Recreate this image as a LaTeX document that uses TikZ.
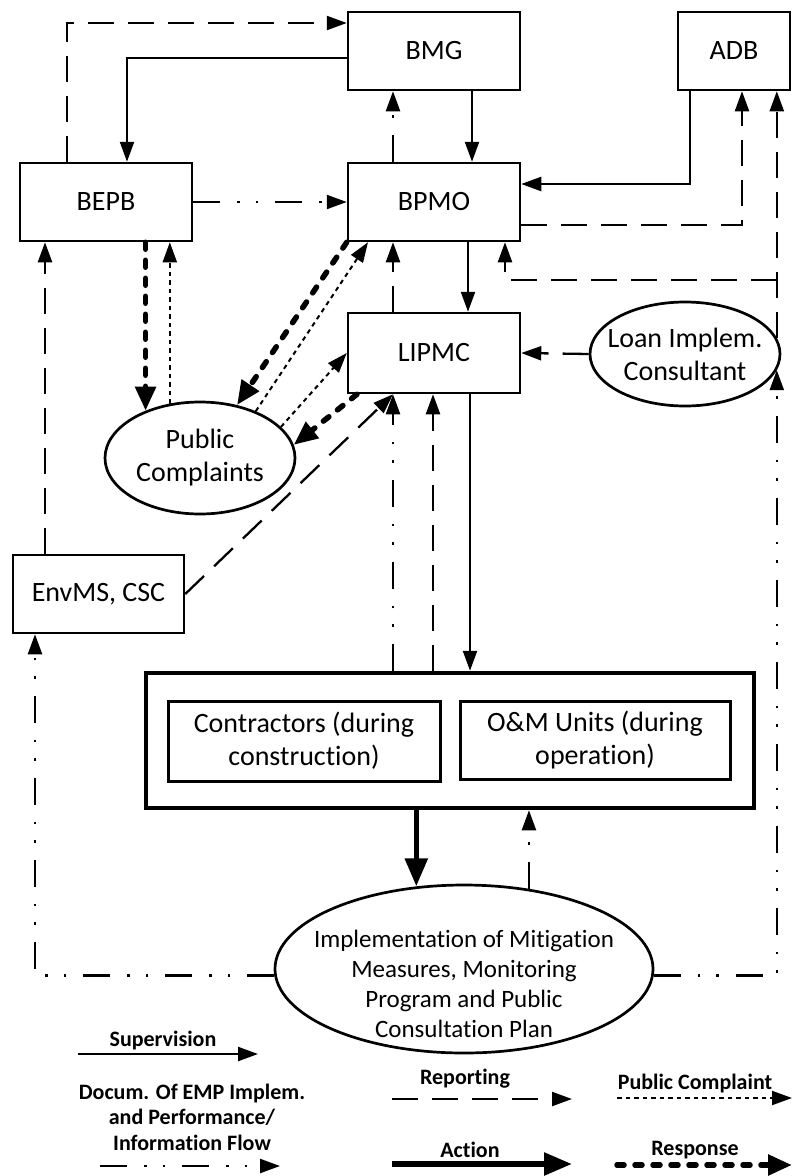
\documentclass[tikz,border=0pt]{standalone}
\usepackage{fontspec}
\setmainfont{Carlito}[Ligatures=NoCommon]
\usetikzlibrary{arrows.meta,shapes.geometric,calc}
\begin{document}
\begin{tikzpicture}[x=1pt,y=-1pt,
  box/.style={draw, line width=2.5pt, minimum width=172pt, minimum height=78pt, inner sep=0pt, font=\fontsize{28}{33}\selectfont, align=center},
  oval/.style={draw, ellipse, line width=2.7pt, inner sep=-40pt, font=\fontsize{28}{33}\selectfont, align=center},
  conn/.style={line width=2.3pt},
  sup/.style={conn, -{Triangle[length=20pt,width=14pt]}},
  rep/.style={conn, dash pattern=on 26pt off 14pt, -{Triangle[length=20pt,width=14pt]}},
  doc/.style={conn, dash pattern=on 27pt off 17pt on 2.5pt off 16pt on 2.5pt off 17pt, -{Triangle[length=20pt,width=14pt]}},
  comp/.style={line width=2pt, dash pattern=on 4.5pt off 4pt, -{Triangle[length=20pt,width=14pt]}},
  resp/.style={line width=5.5pt, line cap=round, dash pattern=on 7pt off 11pt, -{Triangle[length=24pt,width=20pt]}},
  act/.style={line width=5.5pt, -{Triangle[length=28pt,width=22pt]}},
  legtext/.style={font=\fontsize{22}{25.5}\selectfont\bfseries, inner sep=0pt, align=center}
]
\path[use as bounding box, fill=white] (0,0) rectangle (792,1176);

% nodes
\node[box] (bmg) at (434,51) {BMG};
\node[box, minimum width=112pt] (adb) at (734,51) {ADB};
\node[box] (bepb) at (106,202) {BEPB};
\node[box] (bpmo) at (434,202) {BPMO};
\node[box, minimum height=80pt] (lipmc) at (434,353) {LIPMC};
\node[oval, minimum width=190pt, minimum height=104pt] (loan) at (685,354) {Loan Implem.\\Consultant};
\node[oval, minimum width=190pt, minimum height=112pt] (pc) at (200,458) {Public\\Complaints};
\node[box, minimum width=171pt] (envms) at (98.5,594) {EnvMS, CSC};
\node[draw, line width=4.5pt, minimum width=608pt, minimum height=135pt, inner sep=0pt] (cont) at (450,740.5) {};
\node[box, line width=3pt, minimum width=272pt, minimum height=80pt] (contr) at (304,741) {Contractors (during\\construction)};
\node[box, line width=3pt, minimum width=270pt, minimum height=78pt] (om) at (595,740) {O\&M Units (during\\operation)};
\node[oval, minimum width=378pt, minimum height=168pt, font=\fontsize{25}{30}\selectfont] (impl) at (464,969) {\rule{0pt}{48pt}Implementation of Mitigation\\Measures, Monitoring\\Program and Public\\Consultation Plan};

% connectors
\draw[rep] ($(bepb.north)+(-39,0)$) |- ($(bmg.west)+(0,-28)$);
\draw[sup] ($(bmg.west)+(0,7)$) -| ($(bepb.north)+(21,0)$);
\draw[doc] (bepb.east) -- (bpmo.west);
\draw[doc] ($(bpmo.north)+(-41,0)$) -- ($(bmg.south)+(-41,0)$);
\draw[sup] ($(bmg.south)+(38,0)$) -- ($(bpmo.north)+(38,0)$);
\draw[sup] ($(adb.south)+(-44,0)$) |- ($(bpmo.east)+(0,-18)$);
\draw[rep] ($(bpmo.east)+(0,23)$) -| ($(adb.south)+(8,0)$);
\coordinate (j1) at ($(bpmo.south -| loan.10)+(0,38)$);
\draw[rep] (loan.10) -- (adb.south -| loan.10);
\draw[rep] (j1) -| ($(bpmo.south)+(71,0)$);
\draw[doc] (impl.-2.4) -| (loan.-10);
\draw[rep] (loan.west) -- (lipmc.east);
\draw[rep] ($(lipmc.north)+(-41,0)$) -- ($(bpmo.south)+(-41,0)$);
\draw[sup] ($(bpmo.south)+(34,0)$) -- ($(lipmc.north)+(34,0)$);
\draw[resp] (bepb.south -| pc.139) -- (pc.139);
\draw[comp] (pc.119.5) -- (bepb.south -| pc.119.5);
\draw[resp] (bpmo.south west) -- (pc.55);
\draw[comp] (pc.40) -- ($(bpmo.south)+(-66,0)$);
\draw[comp] (pc.21) -- (lipmc.west);
\draw[resp] ($(lipmc.south)+(-77,0)$) -- (pc.8);
\draw[rep] (envms.east) -- ($(lipmc.south)+(-41,0)$);
\draw[rep] ($(envms.north)+(-53.5,0)$) -- ($(bepb.south)+(-61,0)$);
\draw[doc] (impl.182.4) -| ($(envms.south)+(-63.5,0)$);
\draw[doc] ($(cont.north)+(-57,0)$) -- ($(lipmc.south)+(-41,0)$);
\draw[rep] ($(cont.north)+(-17,0)$) -- ($(lipmc.south)+(-1,0)$);
\draw[sup] ($(lipmc.south)+(36,0)$) -- ($(cont.north)+(20,0)$);
\draw[act] (cont.south -| impl.120.6) -- (impl.120.6);
\draw[doc] (impl.51) -- (cont.south -| impl.51);

% legend
\node[legtext, anchor=base] (lsup) at (163,1046) {Supervision};
\coordinate (s1) at (78,1054); \coordinate (s2) at (258,1054);
\draw[sup] (s1) -- (s2);
\node[legtext] (ldoc) at (192,1117) {Docum. Of EMP Implem.\\and Performance/\\Information Flow};
\coordinate (d1) at (100,1166); \coordinate (d2) at (280,1166);
\draw[doc] (d1) -- (d2);
\node[legtext, anchor=base] (lrep) at (465,1084) {Reporting};
\coordinate (r1) at (392,1099); \coordinate (r2) at (572,1099);
\draw[rep] (r1) -- (r2);
\node[legtext, anchor=base] (lcomp) at (695,1089) {Public Complaint};
\coordinate (c1) at (617,1098); \coordinate (c2) at (792,1098);
\draw[comp] (c1) -- (c2);
\node[legtext, anchor=base] (lact) at (470,1157) {Action};
\coordinate (a1) at (392,1164); \coordinate (a2) at (572,1164);
\draw[act] (a1) -- (a2);
\node[legtext, anchor=base] (lresp) at (695,1155) {Response};
\coordinate (e1) at (617,1165); \coordinate (e2) at (792,1165);
\draw[resp] (e1) -- (e2);
\end{tikzpicture}
\end{document}
